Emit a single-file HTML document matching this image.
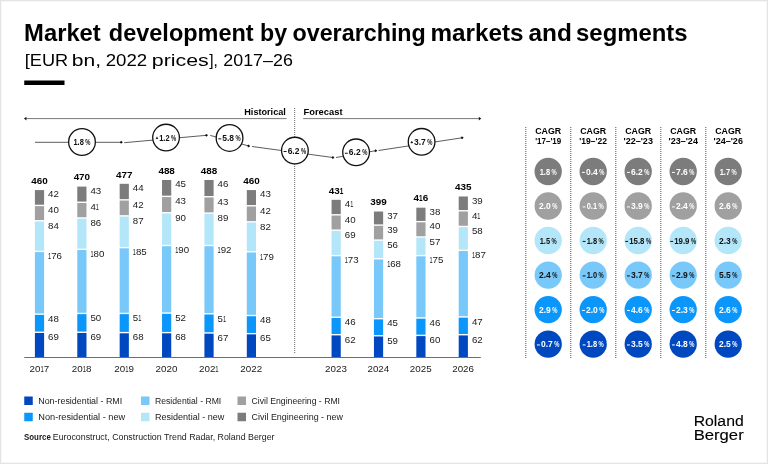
<!DOCTYPE html>
<html><head><meta charset="utf-8"><style>
html,body{margin:0;padding:0;background:#fff;}
body{width:768px;height:464px;overflow:hidden;}
svg{display:block;will-change:transform;font-family:"Liberation Sans", sans-serif;}
</style></head><body>
<svg width="768" height="464" viewBox="0 0 768 464">
<rect width="768" height="464" fill="#fff"/>
<rect x="0.5" y="0.5" width="767" height="463" fill="none" stroke="#e4e4e4" stroke-width="1"/>
<rect x="1.5" y="1.5" width="765" height="461" fill="none" stroke="#f7f7f7" stroke-width="1"/>
<text x="24.08" y="40.70" font-size="24" font-weight="bold" textLength="76.70" lengthAdjust="spacingAndGlyphs">Market</text>
<text x="108.84" y="40.70" font-size="24" font-weight="bold" textLength="144.86" lengthAdjust="spacingAndGlyphs">development</text>
<text x="260.00" y="40.70" font-size="24" font-weight="bold" textLength="27.08" lengthAdjust="spacingAndGlyphs">by</text>
<text x="292.46" y="40.70" font-size="24" font-weight="bold" textLength="133.38" lengthAdjust="spacingAndGlyphs">overarching</text>
<text x="430.54" y="40.70" font-size="24" font-weight="bold" textLength="93.04" lengthAdjust="spacingAndGlyphs">markets</text>
<text x="528.50" y="40.70" font-size="24" font-weight="bold" textLength="43.34" lengthAdjust="spacingAndGlyphs">and</text>
<text x="576.08" y="40.70" font-size="24" font-weight="bold" textLength="111.46" lengthAdjust="spacingAndGlyphs">segments</text>
<text x="24.76" y="65.90" font-size="17.2" textLength="43.42" lengthAdjust="spacingAndGlyphs">[EUR</text>
<text x="71.84" y="65.90" font-size="17.2" textLength="29.30" lengthAdjust="spacingAndGlyphs">bn,</text>
<text x="105.72" y="65.90" font-size="17.2" textLength="41.50" lengthAdjust="spacingAndGlyphs">2022</text>
<text x="151.76" y="65.90" font-size="17.2" textLength="57.00" lengthAdjust="spacingAndGlyphs">prices</text>
<text x="209.18" y="65.90" font-size="17.2" textLength="8.62" lengthAdjust="spacingAndGlyphs">],</text>
<text x="223.34" y="65.90" font-size="17.2" textLength="69.50" lengthAdjust="spacingAndGlyphs">2017–26</text>
<rect x="24.25" y="80.5" width="40.25" height="4.5" fill="#000"/>
<text x="285.80" y="114.90" font-size="9.9" font-weight="bold" text-anchor="end" textLength="41.50" lengthAdjust="spacingAndGlyphs">Historical</text>
<text x="303.50" y="114.90" font-size="9.9" font-weight="bold" textLength="39.00" lengthAdjust="spacingAndGlyphs">Forecast</text>
<line x1="25" y1="118.6" x2="286.6" y2="118.6" stroke="#7a7a7a" stroke-width="1"/>
<path d="M24.0 118.6 L26.4 116.8 L26.4 120.4 Z" fill="#111"/>
<line x1="303.2" y1="118.6" x2="480" y2="118.6" stroke="#7a7a7a" stroke-width="1"/>
<path d="M481.2 118.6 L478.8 116.8 L478.8 120.4 Z" fill="#111"/>
<line x1="294.7" y1="108" x2="294.7" y2="354" stroke="#666" stroke-width="1" stroke-dasharray="1 1"/>
<rect x="34.90" y="332.96" width="9.2" height="24.04" fill="#0048bf"/>
<text x="48.10" y="340.06" font-size="9.7" fill="#1a1a1a"><tspan>69</tspan></text>
<rect x="34.90" y="314.84" width="9.2" height="16.72" fill="#0a96fa"/>
<text x="48.10" y="321.94" font-size="9.7" fill="#1a1a1a"><tspan>48</tspan></text>
<rect x="34.90" y="252.12" width="9.2" height="61.32" fill="#78c8fa"/>
<text x="48.10" y="259.22" font-size="9.7" fill="#1a1a1a"><tspan textLength="3.10" lengthAdjust="spacingAndGlyphs">1</tspan><tspan>76</tspan></text>
<rect x="34.90" y="221.45" width="9.2" height="29.27" fill="#b4e6fa"/>
<text x="48.10" y="228.55" font-size="9.7" fill="#1a1a1a"><tspan>84</tspan></text>
<rect x="34.90" y="206.12" width="9.2" height="13.94" fill="#a0a0a0"/>
<text x="48.10" y="213.22" font-size="9.7" fill="#1a1a1a"><tspan>40</tspan></text>
<rect x="34.90" y="190.08" width="9.2" height="14.63" fill="#7c7c7c"/>
<text x="48.10" y="197.18" font-size="9.7" fill="#1a1a1a"><tspan>42</tspan></text>
<text x="39.50" y="183.78" font-size="9.9" font-weight="bold" text-anchor="middle"><tspan>460</tspan></text>
<text x="39.30" y="372.20" font-size="9.8" text-anchor="middle" fill="#1a1a1a"><tspan>20</tspan><tspan textLength="3.30" lengthAdjust="spacingAndGlyphs">1</tspan><tspan>7</tspan></text>
<rect x="77.28" y="332.96" width="9.2" height="24.04" fill="#0048bf"/>
<text x="90.48" y="340.06" font-size="9.7" fill="#1a1a1a"><tspan>69</tspan></text>
<rect x="77.28" y="314.14" width="9.2" height="17.42" fill="#0a96fa"/>
<text x="90.48" y="321.24" font-size="9.7" fill="#1a1a1a"><tspan>50</tspan></text>
<rect x="77.28" y="250.03" width="9.2" height="62.71" fill="#78c8fa"/>
<text x="90.48" y="257.13" font-size="9.7" fill="#1a1a1a"><tspan textLength="3.10" lengthAdjust="spacingAndGlyphs">1</tspan><tspan>80</tspan></text>
<rect x="77.28" y="218.67" width="9.2" height="29.96" fill="#b4e6fa"/>
<text x="90.48" y="225.77" font-size="9.7" fill="#1a1a1a"><tspan>86</tspan></text>
<rect x="77.28" y="202.98" width="9.2" height="14.28" fill="#a0a0a0"/>
<text x="90.48" y="210.08" font-size="9.7" fill="#1a1a1a"><tspan>4</tspan><tspan textLength="3.10" lengthAdjust="spacingAndGlyphs">1</tspan></text>
<rect x="77.28" y="186.60" width="9.2" height="14.98" fill="#7c7c7c"/>
<text x="90.48" y="193.70" font-size="9.7" fill="#1a1a1a"><tspan>43</tspan></text>
<text x="81.88" y="180.30" font-size="9.9" font-weight="bold" text-anchor="middle"><tspan>470</tspan></text>
<text x="81.68" y="372.20" font-size="9.8" text-anchor="middle" fill="#1a1a1a"><tspan>20</tspan><tspan textLength="3.30" lengthAdjust="spacingAndGlyphs">1</tspan><tspan>8</tspan></text>
<rect x="119.66" y="333.31" width="9.2" height="23.69" fill="#0048bf"/>
<text x="132.86" y="340.41" font-size="9.7" fill="#1a1a1a"><tspan>68</tspan></text>
<rect x="119.66" y="314.14" width="9.2" height="17.77" fill="#0a96fa"/>
<text x="132.86" y="321.24" font-size="9.7" fill="#1a1a1a"><tspan>5</tspan><tspan textLength="3.10" lengthAdjust="spacingAndGlyphs">1</tspan></text>
<rect x="119.66" y="248.29" width="9.2" height="64.45" fill="#78c8fa"/>
<text x="132.86" y="255.39" font-size="9.7" fill="#1a1a1a"><tspan textLength="3.10" lengthAdjust="spacingAndGlyphs">1</tspan><tspan>85</tspan></text>
<rect x="119.66" y="216.58" width="9.2" height="30.31" fill="#b4e6fa"/>
<text x="132.86" y="223.68" font-size="9.7" fill="#1a1a1a"><tspan>87</tspan></text>
<rect x="119.66" y="200.54" width="9.2" height="14.63" fill="#a0a0a0"/>
<text x="132.86" y="207.64" font-size="9.7" fill="#1a1a1a"><tspan>42</tspan></text>
<rect x="119.66" y="183.81" width="9.2" height="15.33" fill="#7c7c7c"/>
<text x="132.86" y="190.91" font-size="9.7" fill="#1a1a1a"><tspan>44</tspan></text>
<text x="124.26" y="177.51" font-size="9.9" font-weight="bold" text-anchor="middle"><tspan>477</tspan></text>
<text x="124.06" y="372.20" font-size="9.8" text-anchor="middle" fill="#1a1a1a"><tspan>20</tspan><tspan textLength="3.30" lengthAdjust="spacingAndGlyphs">1</tspan><tspan>9</tspan></text>
<rect x="162.04" y="333.31" width="9.2" height="23.69" fill="#0048bf"/>
<text x="175.24" y="340.41" font-size="9.7" fill="#1a1a1a"><tspan>68</tspan></text>
<rect x="162.04" y="313.79" width="9.2" height="18.12" fill="#0a96fa"/>
<text x="175.24" y="320.89" font-size="9.7" fill="#1a1a1a"><tspan>52</tspan></text>
<rect x="162.04" y="246.20" width="9.2" height="66.20" fill="#78c8fa"/>
<text x="175.24" y="253.30" font-size="9.7" fill="#1a1a1a"><tspan textLength="3.10" lengthAdjust="spacingAndGlyphs">1</tspan><tspan>90</tspan></text>
<rect x="162.04" y="213.44" width="9.2" height="31.36" fill="#b4e6fa"/>
<text x="175.24" y="220.54" font-size="9.7" fill="#1a1a1a"><tspan>90</tspan></text>
<rect x="162.04" y="197.06" width="9.2" height="14.98" fill="#a0a0a0"/>
<text x="175.24" y="204.16" font-size="9.7" fill="#1a1a1a"><tspan>43</tspan></text>
<rect x="162.04" y="179.98" width="9.2" height="15.68" fill="#7c7c7c"/>
<text x="175.24" y="187.08" font-size="9.7" fill="#1a1a1a"><tspan>45</tspan></text>
<text x="166.64" y="173.68" font-size="9.9" font-weight="bold" text-anchor="middle"><tspan>488</tspan></text>
<text x="166.44" y="372.20" font-size="9.8" text-anchor="middle" fill="#1a1a1a"><tspan>2020</tspan></text>
<rect x="204.42" y="333.66" width="9.2" height="23.34" fill="#0048bf"/>
<text x="217.62" y="340.76" font-size="9.7" fill="#1a1a1a"><tspan>67</tspan></text>
<rect x="204.42" y="314.49" width="9.2" height="17.77" fill="#0a96fa"/>
<text x="217.62" y="321.59" font-size="9.7" fill="#1a1a1a"><tspan>5</tspan><tspan textLength="3.10" lengthAdjust="spacingAndGlyphs">1</tspan></text>
<rect x="204.42" y="246.20" width="9.2" height="66.89" fill="#78c8fa"/>
<text x="217.62" y="253.30" font-size="9.7" fill="#1a1a1a"><tspan textLength="3.10" lengthAdjust="spacingAndGlyphs">1</tspan><tspan>92</tspan></text>
<rect x="204.42" y="213.79" width="9.2" height="31.01" fill="#b4e6fa"/>
<text x="217.62" y="220.89" font-size="9.7" fill="#1a1a1a"><tspan>89</tspan></text>
<rect x="204.42" y="197.41" width="9.2" height="14.98" fill="#a0a0a0"/>
<text x="217.62" y="204.51" font-size="9.7" fill="#1a1a1a"><tspan>43</tspan></text>
<rect x="204.42" y="179.98" width="9.2" height="16.03" fill="#7c7c7c"/>
<text x="217.62" y="187.08" font-size="9.7" fill="#1a1a1a"><tspan>46</tspan></text>
<text x="209.02" y="173.68" font-size="9.9" font-weight="bold" text-anchor="middle"><tspan>488</tspan></text>
<text x="208.82" y="372.20" font-size="9.8" text-anchor="middle" fill="#1a1a1a"><tspan>202</tspan><tspan textLength="3.30" lengthAdjust="spacingAndGlyphs">1</tspan></text>
<rect x="246.80" y="334.35" width="9.2" height="22.65" fill="#0048bf"/>
<text x="260.00" y="341.45" font-size="9.7" fill="#1a1a1a"><tspan>65</tspan></text>
<rect x="246.80" y="316.23" width="9.2" height="16.72" fill="#0a96fa"/>
<text x="260.00" y="323.33" font-size="9.7" fill="#1a1a1a"><tspan>48</tspan></text>
<rect x="246.80" y="252.47" width="9.2" height="62.36" fill="#78c8fa"/>
<text x="260.00" y="259.57" font-size="9.7" fill="#1a1a1a"><tspan textLength="3.10" lengthAdjust="spacingAndGlyphs">1</tspan><tspan>79</tspan></text>
<rect x="246.80" y="222.50" width="9.2" height="28.57" fill="#b4e6fa"/>
<text x="260.00" y="229.60" font-size="9.7" fill="#1a1a1a"><tspan>82</tspan></text>
<rect x="246.80" y="206.47" width="9.2" height="14.63" fill="#a0a0a0"/>
<text x="260.00" y="213.57" font-size="9.7" fill="#1a1a1a"><tspan>42</tspan></text>
<rect x="246.80" y="190.08" width="9.2" height="14.98" fill="#7c7c7c"/>
<text x="260.00" y="197.18" font-size="9.7" fill="#1a1a1a"><tspan>43</tspan></text>
<text x="251.40" y="183.78" font-size="9.9" font-weight="bold" text-anchor="middle"><tspan>460</tspan></text>
<text x="251.20" y="372.20" font-size="9.8" text-anchor="middle" fill="#1a1a1a"><tspan>2022</tspan></text>
<rect x="331.56" y="335.40" width="9.2" height="21.60" fill="#0048bf"/>
<text x="344.76" y="342.50" font-size="9.7" fill="#1a1a1a"><tspan>62</tspan></text>
<rect x="331.56" y="317.97" width="9.2" height="16.03" fill="#0a96fa"/>
<text x="344.76" y="325.07" font-size="9.7" fill="#1a1a1a"><tspan>46</tspan></text>
<rect x="331.56" y="256.30" width="9.2" height="60.27" fill="#78c8fa"/>
<text x="344.76" y="263.40" font-size="9.7" fill="#1a1a1a"><tspan textLength="3.10" lengthAdjust="spacingAndGlyphs">1</tspan><tspan>73</tspan></text>
<rect x="331.56" y="230.86" width="9.2" height="24.04" fill="#b4e6fa"/>
<text x="344.76" y="237.96" font-size="9.7" fill="#1a1a1a"><tspan>69</tspan></text>
<rect x="331.56" y="215.52" width="9.2" height="13.94" fill="#a0a0a0"/>
<text x="344.76" y="222.62" font-size="9.7" fill="#1a1a1a"><tspan>40</tspan></text>
<rect x="331.56" y="199.84" width="9.2" height="14.28" fill="#7c7c7c"/>
<text x="344.76" y="206.94" font-size="9.7" fill="#1a1a1a"><tspan>4</tspan><tspan textLength="3.10" lengthAdjust="spacingAndGlyphs">1</tspan></text>
<text x="336.16" y="193.54" font-size="9.9" font-weight="bold" text-anchor="middle"><tspan>43</tspan><tspan textLength="3.60" lengthAdjust="spacingAndGlyphs">1</tspan></text>
<text x="335.96" y="372.20" font-size="9.8" text-anchor="middle" fill="#1a1a1a"><tspan>2023</tspan></text>
<rect x="373.94" y="336.44" width="9.2" height="20.56" fill="#0048bf"/>
<text x="387.14" y="343.54" font-size="9.7" fill="#1a1a1a"><tspan>59</tspan></text>
<rect x="373.94" y="319.37" width="9.2" height="15.68" fill="#0a96fa"/>
<text x="387.14" y="326.47" font-size="9.7" fill="#1a1a1a"><tspan>45</tspan></text>
<rect x="373.94" y="259.44" width="9.2" height="58.53" fill="#78c8fa"/>
<text x="387.14" y="266.54" font-size="9.7" fill="#1a1a1a"><tspan textLength="3.10" lengthAdjust="spacingAndGlyphs">1</tspan><tspan>68</tspan></text>
<rect x="373.94" y="240.79" width="9.2" height="17.25" fill="#b4e6fa"/>
<text x="387.14" y="247.89" font-size="9.7" fill="#1a1a1a"><tspan>56</tspan></text>
<rect x="373.94" y="225.80" width="9.2" height="13.59" fill="#a0a0a0"/>
<text x="387.14" y="232.90" font-size="9.7" fill="#1a1a1a"><tspan>39</tspan></text>
<rect x="373.94" y="211.51" width="9.2" height="12.89" fill="#7c7c7c"/>
<text x="387.14" y="218.61" font-size="9.7" fill="#1a1a1a"><tspan>37</tspan></text>
<text x="378.54" y="205.21" font-size="9.9" font-weight="bold" text-anchor="middle"><tspan>399</tspan></text>
<text x="378.34" y="372.20" font-size="9.8" text-anchor="middle" fill="#1a1a1a"><tspan>2024</tspan></text>
<rect x="416.32" y="336.10" width="9.2" height="20.90" fill="#0048bf"/>
<text x="429.52" y="343.20" font-size="9.7" fill="#1a1a1a"><tspan>60</tspan></text>
<rect x="416.32" y="318.67" width="9.2" height="16.03" fill="#0a96fa"/>
<text x="429.52" y="325.77" font-size="9.7" fill="#1a1a1a"><tspan>46</tspan></text>
<rect x="416.32" y="256.30" width="9.2" height="60.97" fill="#78c8fa"/>
<text x="429.52" y="263.40" font-size="9.7" fill="#1a1a1a"><tspan textLength="3.10" lengthAdjust="spacingAndGlyphs">1</tspan><tspan>75</tspan></text>
<rect x="416.32" y="237.65" width="9.2" height="17.25" fill="#b4e6fa"/>
<text x="429.52" y="244.75" font-size="9.7" fill="#1a1a1a"><tspan>57</tspan></text>
<rect x="416.32" y="222.32" width="9.2" height="13.94" fill="#a0a0a0"/>
<text x="429.52" y="229.42" font-size="9.7" fill="#1a1a1a"><tspan>40</tspan></text>
<rect x="416.32" y="207.68" width="9.2" height="13.24" fill="#7c7c7c"/>
<text x="429.52" y="214.78" font-size="9.7" fill="#1a1a1a"><tspan>38</tspan></text>
<text x="420.92" y="201.38" font-size="9.9" font-weight="bold" text-anchor="middle"><tspan>4</tspan><tspan textLength="3.60" lengthAdjust="spacingAndGlyphs">1</tspan><tspan>6</tspan></text>
<text x="420.72" y="372.20" font-size="9.8" text-anchor="middle" fill="#1a1a1a"><tspan>2025</tspan></text>
<rect x="458.70" y="335.40" width="9.2" height="21.60" fill="#0048bf"/>
<text x="471.90" y="342.50" font-size="9.7" fill="#1a1a1a"><tspan>62</tspan></text>
<rect x="458.70" y="317.62" width="9.2" height="16.37" fill="#0a96fa"/>
<text x="471.90" y="324.72" font-size="9.7" fill="#1a1a1a"><tspan>47</tspan></text>
<rect x="458.70" y="251.07" width="9.2" height="65.15" fill="#78c8fa"/>
<text x="471.90" y="258.17" font-size="9.7" fill="#1a1a1a"><tspan textLength="3.10" lengthAdjust="spacingAndGlyphs">1</tspan><tspan>87</tspan></text>
<rect x="458.70" y="227.17" width="9.2" height="22.51" fill="#b4e6fa"/>
<text x="471.90" y="234.27" font-size="9.7" fill="#1a1a1a"><tspan>58</tspan></text>
<rect x="458.70" y="211.48" width="9.2" height="14.28" fill="#a0a0a0"/>
<text x="471.90" y="218.58" font-size="9.7" fill="#1a1a1a"><tspan>4</tspan><tspan textLength="3.10" lengthAdjust="spacingAndGlyphs">1</tspan></text>
<rect x="458.70" y="196.49" width="9.2" height="13.59" fill="#7c7c7c"/>
<text x="471.90" y="203.59" font-size="9.7" fill="#1a1a1a"><tspan>39</tspan></text>
<text x="463.30" y="190.19" font-size="9.9" font-weight="bold" text-anchor="middle"><tspan>435</tspan></text>
<text x="463.10" y="372.20" font-size="9.8" text-anchor="middle" fill="#1a1a1a"><tspan>2026</tspan></text>
<line x1="24.3" y1="357.5" x2="480.8" y2="357.5" stroke="#6e6e6e" stroke-width="1"/>
<line x1="35" y1="142.3" x2="122.5" y2="142.3" stroke="#333" stroke-width="0.8"/>
<path d="M122.50 142.30 L121.15 143.85 L119.80 142.30 L121.15 140.75 Z" fill="#111"/>
<line x1="124.2" y1="142.7" x2="207.7" y2="135.2" stroke="#333" stroke-width="0.8"/>
<path d="M207.70 135.20 L206.49 136.86 L205.01 135.44 L206.22 133.78 Z" fill="#111"/>
<line x1="210.2" y1="135.4" x2="249.8" y2="146.25" stroke="#333" stroke-width="0.8"/>
<path d="M249.80 146.25 L248.09 147.39 L247.20 145.54 L248.91 144.40 Z" fill="#111"/>
<line x1="252" y1="146.5" x2="334.2" y2="157.7" stroke="#333" stroke-width="0.8"/>
<path d="M334.20 157.70 L332.65 159.05 L331.52 157.34 L333.07 155.98 Z" fill="#111"/>
<line x1="336" y1="157.5" x2="377" y2="150.5" stroke="#333" stroke-width="0.8"/>
<path d="M377.00 150.50 L375.93 152.26 L374.34 150.95 L375.41 149.20 Z" fill="#111"/>
<line x1="378.5" y1="150.5" x2="463.4" y2="137.6" stroke="#333" stroke-width="0.8"/>
<path d="M463.40 137.60 L462.30 139.34 L460.73 138.01 L461.83 136.27 Z" fill="#111"/>
<circle cx="82" cy="142" r="13.35" fill="#fff" stroke="#111" stroke-width="1.3"/>
<text x="73.45" y="145.00" font-size="8.2" font-weight="bold" fill="#111" textLength="10.40" lengthAdjust="spacingAndGlyphs">1.8</text>
<text x="85.35" y="145.00" font-size="8.4" font-weight="bold" fill="#111" textLength="5.20" lengthAdjust="spacingAndGlyphs">%</text>
<circle cx="166.05" cy="137.6" r="13.35" fill="#fff" stroke="#111" stroke-width="1.3"/>
<rect x="155.80" y="137.90" width="2.3" height="0.9" fill="#111"/>
<rect x="156.50" y="136.75" width="0.9" height="2.30" fill="#111"/>
<text x="159.20" y="140.60" font-size="8.2" font-weight="bold" fill="#111" textLength="10.40" lengthAdjust="spacingAndGlyphs">1.2</text>
<text x="171.10" y="140.60" font-size="8.4" font-weight="bold" fill="#111" textLength="5.20" lengthAdjust="spacingAndGlyphs">%</text>
<circle cx="229.55" cy="137.95" r="13.35" fill="#fff" stroke="#111" stroke-width="1.3"/>
<rect x="218.30" y="138.35" width="2.9" height="1.0" fill="#111"/>
<text x="222.30" y="140.95" font-size="8.2" font-weight="bold" fill="#111" textLength="11.80" lengthAdjust="spacingAndGlyphs">5.8</text>
<text x="235.60" y="140.95" font-size="8.4" font-weight="bold" fill="#111" textLength="5.20" lengthAdjust="spacingAndGlyphs">%</text>
<circle cx="294.9" cy="150.6" r="13.35" fill="#fff" stroke="#111" stroke-width="1.3"/>
<rect x="283.65" y="151.00" width="2.9" height="1.0" fill="#111"/>
<text x="287.65" y="153.60" font-size="8.2" font-weight="bold" fill="#111" textLength="11.80" lengthAdjust="spacingAndGlyphs">6.2</text>
<text x="300.95" y="153.60" font-size="8.4" font-weight="bold" fill="#111" textLength="5.20" lengthAdjust="spacingAndGlyphs">%</text>
<circle cx="356.1" cy="152.35" r="13.35" fill="#fff" stroke="#111" stroke-width="1.3"/>
<rect x="344.85" y="152.75" width="2.9" height="1.0" fill="#111"/>
<text x="348.85" y="155.35" font-size="8.2" font-weight="bold" fill="#111" textLength="11.80" lengthAdjust="spacingAndGlyphs">6.2</text>
<text x="362.15" y="155.35" font-size="8.4" font-weight="bold" fill="#111" textLength="5.20" lengthAdjust="spacingAndGlyphs">%</text>
<circle cx="421.6" cy="141.85" r="13.35" fill="#fff" stroke="#111" stroke-width="1.3"/>
<rect x="410.65" y="142.15" width="2.3" height="0.9" fill="#111"/>
<rect x="411.35" y="141.00" width="0.9" height="2.30" fill="#111"/>
<text x="414.05" y="144.85" font-size="8.2" font-weight="bold" fill="#111" textLength="11.80" lengthAdjust="spacingAndGlyphs">3.7</text>
<text x="427.35" y="144.85" font-size="8.4" font-weight="bold" fill="#111" textLength="5.20" lengthAdjust="spacingAndGlyphs">%</text>
<line x1="525.80" y1="127" x2="525.80" y2="359" stroke="#555" stroke-width="1" stroke-dasharray="1 1"/>
<text x="548.20" y="134.40" font-size="9.5" font-weight="bold" text-anchor="middle" textLength="26.00" lengthAdjust="spacingAndGlyphs">CAGR</text>
<text x="548.20" y="144.30" font-size="9.5" font-weight="bold" text-anchor="middle" textLength="26.00" lengthAdjust="spacingAndGlyphs">'17–'19</text>
<line x1="570.80" y1="127" x2="570.80" y2="359" stroke="#555" stroke-width="1" stroke-dasharray="1 1"/>
<text x="593.20" y="134.40" font-size="9.5" font-weight="bold" text-anchor="middle" textLength="26.00" lengthAdjust="spacingAndGlyphs">CAGR</text>
<text x="593.20" y="144.30" font-size="9.5" font-weight="bold" text-anchor="middle" textLength="27.75" lengthAdjust="spacingAndGlyphs">'19–'22</text>
<line x1="615.80" y1="127" x2="615.80" y2="359" stroke="#555" stroke-width="1" stroke-dasharray="1 1"/>
<text x="638.20" y="134.40" font-size="9.5" font-weight="bold" text-anchor="middle" textLength="26.00" lengthAdjust="spacingAndGlyphs">CAGR</text>
<text x="638.20" y="144.30" font-size="9.5" font-weight="bold" text-anchor="middle" textLength="29.40" lengthAdjust="spacingAndGlyphs">'22–'23</text>
<line x1="660.80" y1="127" x2="660.80" y2="359" stroke="#555" stroke-width="1" stroke-dasharray="1 1"/>
<text x="683.20" y="134.40" font-size="9.5" font-weight="bold" text-anchor="middle" textLength="26.00" lengthAdjust="spacingAndGlyphs">CAGR</text>
<text x="683.20" y="144.30" font-size="9.5" font-weight="bold" text-anchor="middle" textLength="29.40" lengthAdjust="spacingAndGlyphs">'23–'24</text>
<line x1="705.80" y1="127" x2="705.80" y2="359" stroke="#555" stroke-width="1" stroke-dasharray="1 1"/>
<text x="728.20" y="134.40" font-size="9.5" font-weight="bold" text-anchor="middle" textLength="26.00" lengthAdjust="spacingAndGlyphs">CAGR</text>
<text x="728.20" y="144.30" font-size="9.5" font-weight="bold" text-anchor="middle" textLength="29.40" lengthAdjust="spacingAndGlyphs">'24–'26</text>
<circle cx="548.20" cy="171.50" r="13.65" fill="#7c7c7c"/>
<text x="539.65" y="174.50" font-size="8.2" font-weight="bold" fill="#fff" textLength="10.40" lengthAdjust="spacingAndGlyphs">1.8</text>
<text x="551.55" y="174.50" font-size="8.4" font-weight="bold" fill="#fff" textLength="5.20" lengthAdjust="spacingAndGlyphs">%</text>
<circle cx="593.20" cy="171.50" r="13.65" fill="#7c7c7c"/>
<rect x="581.95" y="171.90" width="2.9" height="1.0" fill="#fff"/>
<text x="585.95" y="174.50" font-size="8.2" font-weight="bold" fill="#fff" textLength="11.80" lengthAdjust="spacingAndGlyphs">0.4</text>
<text x="599.25" y="174.50" font-size="8.4" font-weight="bold" fill="#fff" textLength="5.20" lengthAdjust="spacingAndGlyphs">%</text>
<circle cx="638.20" cy="171.50" r="13.65" fill="#7c7c7c"/>
<rect x="626.95" y="171.90" width="2.9" height="1.0" fill="#fff"/>
<text x="630.95" y="174.50" font-size="8.2" font-weight="bold" fill="#fff" textLength="11.80" lengthAdjust="spacingAndGlyphs">6.2</text>
<text x="644.25" y="174.50" font-size="8.4" font-weight="bold" fill="#fff" textLength="5.20" lengthAdjust="spacingAndGlyphs">%</text>
<circle cx="683.20" cy="171.50" r="13.65" fill="#7c7c7c"/>
<rect x="671.95" y="171.90" width="2.9" height="1.0" fill="#fff"/>
<text x="675.95" y="174.50" font-size="8.2" font-weight="bold" fill="#fff" textLength="11.80" lengthAdjust="spacingAndGlyphs">7.6</text>
<text x="689.25" y="174.50" font-size="8.4" font-weight="bold" fill="#fff" textLength="5.20" lengthAdjust="spacingAndGlyphs">%</text>
<circle cx="728.20" cy="171.50" r="13.65" fill="#7c7c7c"/>
<text x="719.65" y="174.50" font-size="8.2" font-weight="bold" fill="#fff" textLength="10.40" lengthAdjust="spacingAndGlyphs">1.7</text>
<text x="731.55" y="174.50" font-size="8.4" font-weight="bold" fill="#fff" textLength="5.20" lengthAdjust="spacingAndGlyphs">%</text>
<circle cx="548.20" cy="206.01" r="13.65" fill="#a0a0a0"/>
<text x="538.95" y="209.01" font-size="8.2" font-weight="bold" fill="#fff" textLength="11.80" lengthAdjust="spacingAndGlyphs">2.0</text>
<text x="552.25" y="209.01" font-size="8.4" font-weight="bold" fill="#fff" textLength="5.20" lengthAdjust="spacingAndGlyphs">%</text>
<circle cx="593.20" cy="206.01" r="13.65" fill="#a0a0a0"/>
<rect x="582.65" y="206.41" width="2.9" height="1.0" fill="#fff"/>
<text x="586.65" y="209.01" font-size="8.2" font-weight="bold" fill="#fff" textLength="10.40" lengthAdjust="spacingAndGlyphs">0.1</text>
<text x="598.55" y="209.01" font-size="8.4" font-weight="bold" fill="#fff" textLength="5.20" lengthAdjust="spacingAndGlyphs">%</text>
<circle cx="638.20" cy="206.01" r="13.65" fill="#a0a0a0"/>
<rect x="626.95" y="206.41" width="2.9" height="1.0" fill="#fff"/>
<text x="630.95" y="209.01" font-size="8.2" font-weight="bold" fill="#fff" textLength="11.80" lengthAdjust="spacingAndGlyphs">3.9</text>
<text x="644.25" y="209.01" font-size="8.4" font-weight="bold" fill="#fff" textLength="5.20" lengthAdjust="spacingAndGlyphs">%</text>
<circle cx="683.20" cy="206.01" r="13.65" fill="#a0a0a0"/>
<rect x="671.95" y="206.41" width="2.9" height="1.0" fill="#fff"/>
<text x="675.95" y="209.01" font-size="8.2" font-weight="bold" fill="#fff" textLength="11.80" lengthAdjust="spacingAndGlyphs">2.4</text>
<text x="689.25" y="209.01" font-size="8.4" font-weight="bold" fill="#fff" textLength="5.20" lengthAdjust="spacingAndGlyphs">%</text>
<circle cx="728.20" cy="206.01" r="13.65" fill="#a0a0a0"/>
<text x="718.95" y="209.01" font-size="8.2" font-weight="bold" fill="#fff" textLength="11.80" lengthAdjust="spacingAndGlyphs">2.6</text>
<text x="732.25" y="209.01" font-size="8.4" font-weight="bold" fill="#fff" textLength="5.20" lengthAdjust="spacingAndGlyphs">%</text>
<circle cx="548.20" cy="240.52" r="13.65" fill="#b4e6fa"/>
<text x="539.65" y="243.52" font-size="8.2" font-weight="bold" fill="#111" textLength="10.40" lengthAdjust="spacingAndGlyphs">1.5</text>
<text x="551.55" y="243.52" font-size="8.4" font-weight="bold" fill="#111" textLength="5.20" lengthAdjust="spacingAndGlyphs">%</text>
<circle cx="593.20" cy="240.52" r="13.65" fill="#b4e6fa"/>
<rect x="582.65" y="240.92" width="2.9" height="1.0" fill="#111"/>
<text x="586.65" y="243.52" font-size="8.2" font-weight="bold" fill="#111" textLength="10.40" lengthAdjust="spacingAndGlyphs">1.8</text>
<text x="598.55" y="243.52" font-size="8.4" font-weight="bold" fill="#111" textLength="5.20" lengthAdjust="spacingAndGlyphs">%</text>
<circle cx="638.20" cy="240.52" r="13.65" fill="#b4e6fa"/>
<rect x="625.25" y="240.92" width="2.9" height="1.0" fill="#111"/>
<text x="629.25" y="243.52" font-size="8.2" font-weight="bold" fill="#111" textLength="15.20" lengthAdjust="spacingAndGlyphs">15.8</text>
<text x="645.95" y="243.52" font-size="8.4" font-weight="bold" fill="#111" textLength="5.20" lengthAdjust="spacingAndGlyphs">%</text>
<circle cx="683.20" cy="240.52" r="13.65" fill="#b4e6fa"/>
<rect x="670.25" y="240.92" width="2.9" height="1.0" fill="#111"/>
<text x="674.25" y="243.52" font-size="8.2" font-weight="bold" fill="#111" textLength="15.20" lengthAdjust="spacingAndGlyphs">19.9</text>
<text x="690.95" y="243.52" font-size="8.4" font-weight="bold" fill="#111" textLength="5.20" lengthAdjust="spacingAndGlyphs">%</text>
<circle cx="728.20" cy="240.52" r="13.65" fill="#b4e6fa"/>
<text x="718.95" y="243.52" font-size="8.2" font-weight="bold" fill="#111" textLength="11.80" lengthAdjust="spacingAndGlyphs">2.3</text>
<text x="732.25" y="243.52" font-size="8.4" font-weight="bold" fill="#111" textLength="5.20" lengthAdjust="spacingAndGlyphs">%</text>
<circle cx="548.20" cy="275.03" r="13.65" fill="#78c8fa"/>
<text x="538.95" y="278.03" font-size="8.2" font-weight="bold" fill="#111" textLength="11.80" lengthAdjust="spacingAndGlyphs">2.4</text>
<text x="552.25" y="278.03" font-size="8.4" font-weight="bold" fill="#111" textLength="5.20" lengthAdjust="spacingAndGlyphs">%</text>
<circle cx="593.20" cy="275.03" r="13.65" fill="#78c8fa"/>
<rect x="582.65" y="275.43" width="2.9" height="1.0" fill="#111"/>
<text x="586.65" y="278.03" font-size="8.2" font-weight="bold" fill="#111" textLength="10.40" lengthAdjust="spacingAndGlyphs">1.0</text>
<text x="598.55" y="278.03" font-size="8.4" font-weight="bold" fill="#111" textLength="5.20" lengthAdjust="spacingAndGlyphs">%</text>
<circle cx="638.20" cy="275.03" r="13.65" fill="#78c8fa"/>
<rect x="626.95" y="275.43" width="2.9" height="1.0" fill="#111"/>
<text x="630.95" y="278.03" font-size="8.2" font-weight="bold" fill="#111" textLength="11.80" lengthAdjust="spacingAndGlyphs">3.7</text>
<text x="644.25" y="278.03" font-size="8.4" font-weight="bold" fill="#111" textLength="5.20" lengthAdjust="spacingAndGlyphs">%</text>
<circle cx="683.20" cy="275.03" r="13.65" fill="#78c8fa"/>
<rect x="671.95" y="275.43" width="2.9" height="1.0" fill="#111"/>
<text x="675.95" y="278.03" font-size="8.2" font-weight="bold" fill="#111" textLength="11.80" lengthAdjust="spacingAndGlyphs">2.9</text>
<text x="689.25" y="278.03" font-size="8.4" font-weight="bold" fill="#111" textLength="5.20" lengthAdjust="spacingAndGlyphs">%</text>
<circle cx="728.20" cy="275.03" r="13.65" fill="#78c8fa"/>
<text x="718.95" y="278.03" font-size="8.2" font-weight="bold" fill="#111" textLength="11.80" lengthAdjust="spacingAndGlyphs">5.5</text>
<text x="732.25" y="278.03" font-size="8.4" font-weight="bold" fill="#111" textLength="5.20" lengthAdjust="spacingAndGlyphs">%</text>
<circle cx="548.20" cy="309.54" r="13.65" fill="#0a96fa"/>
<text x="538.95" y="312.54" font-size="8.2" font-weight="bold" fill="#fff" textLength="11.80" lengthAdjust="spacingAndGlyphs">2.9</text>
<text x="552.25" y="312.54" font-size="8.4" font-weight="bold" fill="#fff" textLength="5.20" lengthAdjust="spacingAndGlyphs">%</text>
<circle cx="593.20" cy="309.54" r="13.65" fill="#0a96fa"/>
<rect x="581.95" y="309.94" width="2.9" height="1.0" fill="#fff"/>
<text x="585.95" y="312.54" font-size="8.2" font-weight="bold" fill="#fff" textLength="11.80" lengthAdjust="spacingAndGlyphs">2.0</text>
<text x="599.25" y="312.54" font-size="8.4" font-weight="bold" fill="#fff" textLength="5.20" lengthAdjust="spacingAndGlyphs">%</text>
<circle cx="638.20" cy="309.54" r="13.65" fill="#0a96fa"/>
<rect x="626.95" y="309.94" width="2.9" height="1.0" fill="#fff"/>
<text x="630.95" y="312.54" font-size="8.2" font-weight="bold" fill="#fff" textLength="11.80" lengthAdjust="spacingAndGlyphs">4.6</text>
<text x="644.25" y="312.54" font-size="8.4" font-weight="bold" fill="#fff" textLength="5.20" lengthAdjust="spacingAndGlyphs">%</text>
<circle cx="683.20" cy="309.54" r="13.65" fill="#0a96fa"/>
<rect x="671.95" y="309.94" width="2.9" height="1.0" fill="#fff"/>
<text x="675.95" y="312.54" font-size="8.2" font-weight="bold" fill="#fff" textLength="11.80" lengthAdjust="spacingAndGlyphs">2.3</text>
<text x="689.25" y="312.54" font-size="8.4" font-weight="bold" fill="#fff" textLength="5.20" lengthAdjust="spacingAndGlyphs">%</text>
<circle cx="728.20" cy="309.54" r="13.65" fill="#0a96fa"/>
<text x="718.95" y="312.54" font-size="8.2" font-weight="bold" fill="#fff" textLength="11.80" lengthAdjust="spacingAndGlyphs">2.6</text>
<text x="732.25" y="312.54" font-size="8.4" font-weight="bold" fill="#fff" textLength="5.20" lengthAdjust="spacingAndGlyphs">%</text>
<circle cx="548.20" cy="344.05" r="13.65" fill="#0048bf"/>
<rect x="536.95" y="344.45" width="2.9" height="1.0" fill="#fff"/>
<text x="540.95" y="347.05" font-size="8.2" font-weight="bold" fill="#fff" textLength="11.80" lengthAdjust="spacingAndGlyphs">0.7</text>
<text x="554.25" y="347.05" font-size="8.4" font-weight="bold" fill="#fff" textLength="5.20" lengthAdjust="spacingAndGlyphs">%</text>
<circle cx="593.20" cy="344.05" r="13.65" fill="#0048bf"/>
<rect x="582.65" y="344.45" width="2.9" height="1.0" fill="#fff"/>
<text x="586.65" y="347.05" font-size="8.2" font-weight="bold" fill="#fff" textLength="10.40" lengthAdjust="spacingAndGlyphs">1.8</text>
<text x="598.55" y="347.05" font-size="8.4" font-weight="bold" fill="#fff" textLength="5.20" lengthAdjust="spacingAndGlyphs">%</text>
<circle cx="638.20" cy="344.05" r="13.65" fill="#0048bf"/>
<rect x="626.95" y="344.45" width="2.9" height="1.0" fill="#fff"/>
<text x="630.95" y="347.05" font-size="8.2" font-weight="bold" fill="#fff" textLength="11.80" lengthAdjust="spacingAndGlyphs">3.5</text>
<text x="644.25" y="347.05" font-size="8.4" font-weight="bold" fill="#fff" textLength="5.20" lengthAdjust="spacingAndGlyphs">%</text>
<circle cx="683.20" cy="344.05" r="13.65" fill="#0048bf"/>
<rect x="671.95" y="344.45" width="2.9" height="1.0" fill="#fff"/>
<text x="675.95" y="347.05" font-size="8.2" font-weight="bold" fill="#fff" textLength="11.80" lengthAdjust="spacingAndGlyphs">4.8</text>
<text x="689.25" y="347.05" font-size="8.4" font-weight="bold" fill="#fff" textLength="5.20" lengthAdjust="spacingAndGlyphs">%</text>
<circle cx="728.20" cy="344.05" r="13.65" fill="#0048bf"/>
<text x="718.95" y="347.05" font-size="8.2" font-weight="bold" fill="#fff" textLength="11.80" lengthAdjust="spacingAndGlyphs">2.5</text>
<text x="732.25" y="347.05" font-size="8.4" font-weight="bold" fill="#fff" textLength="5.20" lengthAdjust="spacingAndGlyphs">%</text>
<rect x="24.25" y="396.5" width="8.5" height="8.5" fill="#0048bf"/>
<text x="38.25" y="404.10" font-size="9.7" fill="#1a1a1a" textLength="84.00" lengthAdjust="spacingAndGlyphs">Non-residential - RMI</text>
<rect x="24.25" y="412.75" width="8.5" height="8.5" fill="#0a96fa"/>
<text x="38.25" y="420.35" font-size="9.7" fill="#1a1a1a" textLength="87.00" lengthAdjust="spacingAndGlyphs">Non-residential - new</text>
<rect x="141" y="396.5" width="8.5" height="8.5" fill="#78c8fa"/>
<text x="155.00" y="404.10" font-size="9.7" fill="#1a1a1a" textLength="66.25" lengthAdjust="spacingAndGlyphs">Residential - RMI</text>
<rect x="141" y="412.75" width="8.5" height="8.5" fill="#b4e6fa"/>
<text x="155.00" y="420.35" font-size="9.7" fill="#1a1a1a" textLength="69.25" lengthAdjust="spacingAndGlyphs">Residential - new</text>
<rect x="237.5" y="396.5" width="8.5" height="8.5" fill="#a0a0a0"/>
<text x="251.50" y="404.10" font-size="9.7" fill="#1a1a1a" textLength="88.50" lengthAdjust="spacingAndGlyphs">Civil Engineering - RMI</text>
<rect x="237.5" y="412.75" width="8.5" height="8.5" fill="#7c7c7c"/>
<text x="251.50" y="420.35" font-size="9.7" fill="#1a1a1a" textLength="91.50" lengthAdjust="spacingAndGlyphs">Civil Engineering - new</text>
<text x="24.00" y="440.25" font-size="9.2" font-weight="bold" fill="#1a1a1a" textLength="26.80" lengthAdjust="spacingAndGlyphs">Source</text>
<text x="52.80" y="440.25" font-size="9.2" fill="#1a1a1a" textLength="221.70" lengthAdjust="spacingAndGlyphs">Euroconstruct, Construction Trend Radar, Roland Berger</text>
<text x="693.70" y="425.80" font-size="15.4" textLength="50.00" lengthAdjust="spacingAndGlyphs" stroke="#000" stroke-width="0.12">Roland</text>
<text x="693.70" y="439.60" font-size="15.4" textLength="50.00" lengthAdjust="spacingAndGlyphs" stroke="#000" stroke-width="0.12">Berger</text>
</svg>
</body></html>
